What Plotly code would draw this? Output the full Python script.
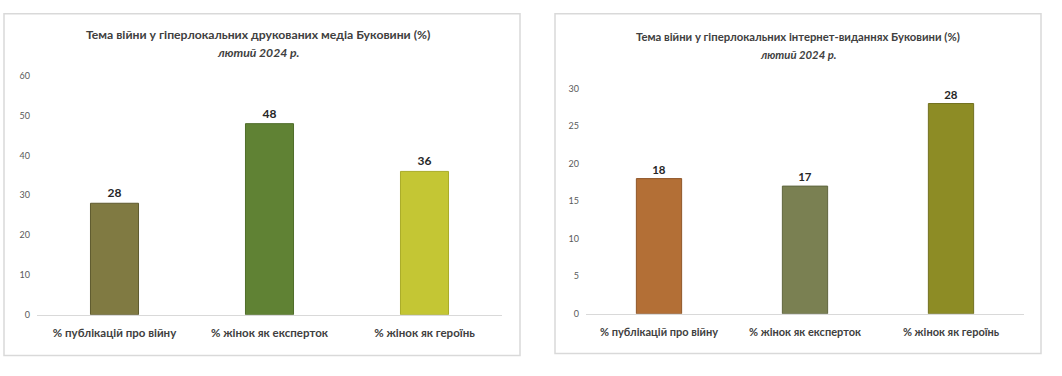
import plotly.graph_objects as go

W, H = 1062, 376

categories = ["% публікацій про війну", "% жінок як експерток", "% жінок як героїнь"]
print_values = [28, 48, 36]
online_values = [18, 17, 28]
print_colors = ["#807a42", "#608234", "#c4c634"]
print_lines = ["#5e5a2e", "#4f6d2a", "#a9ab28"]
online_colors = ["#b36f36", "#7a8052", "#8d8c25"]
online_lines = ["#8f5628", "#5f653e", "#727120"]
title_left = "Тема війни у гіперлокальних друкованих медіа Буковини (%)"
title_right = "Тема війни у гіперлокальних інтернет-виданнях Буковини (%)"
subtitle = "лютий 2024 р."

FONT = "Lato"

def px(x):
    return x / W

def py(y):
    return 1 - y / H

fig = go.Figure()
fig.add_trace(go.Bar(x=categories, y=print_values, width=0.31,
                     marker=dict(color=print_colors, line=dict(color=print_lines, width=1)),
                     text=print_values, textposition="outside", cliponaxis=False,
                     textfont=dict(family=FONT, size=12, color="#262626", weight="bold"),
                     xaxis="x", yaxis="y", showlegend=False, hoverinfo="skip"))
fig.add_trace(go.Bar(x=categories, y=online_values, width=0.31,
                     marker=dict(color=online_colors, line=dict(color=online_lines, width=1)),
                     text=online_values, textposition="outside", cliponaxis=False,
                     textfont=dict(family=FONT, size=11.5, color="#262626", weight="bold"),
                     xaxis="x2", yaxis="y2", showlegend=False, hoverinfo="skip"))

def xax(size):
    return dict(showgrid=False, showline=True, linecolor="#d9d9d9", linewidth=1,
                tickfont=dict(family=FONT, size=size, color="#404040", weight="bold"),
                ticks="", ticklabelstandoff=8, zeroline=False, fixedrange=True)

ycommon = dict(showgrid=False, showline=False, zeroline=False, ticks="",
               tickfont=dict(family=FONT, size=9, color="#595959"),
               ticklabelstandoff=6, fixedrange=True)

def ann(text, x, y, size):
    return dict(text=text, x=px(x), y=py(y), xref="paper", yref="paper",
                xanchor="center", yanchor="middle", showarrow=False,
                font=dict(family=FONT, size=size, color="#404040"))

fig.update_layout(
    width=W, height=H,
    margin=dict(l=0, r=0, t=0, b=0),
    paper_bgcolor="white", plot_bgcolor="white",
    xaxis=dict(domain=[px(37), px(502)], anchor="y", **xax(11.5)),
    yaxis=dict(domain=[py(318), py(72)], range=[0, 60], dtick=10, anchor="x", **ycommon),
    xaxis2=dict(domain=[px(586), px(1024)], anchor="y2", **xax(11)),
    yaxis2=dict(domain=[py(317), py(85)], range=[0, 30], dtick=5, anchor="x2", **ycommon),
    shapes=[
        dict(type="rect", xref="paper", yref="paper", x0=px(4), x1=px(520), y0=py(360), y1=py(8),
             line=dict(color="#d9d9d9", width=1.5), layer="below"),
        dict(type="rect", xref="paper", yref="paper", x0=px(555), x1=px(1041), y0=py(358), y1=py(8),
             line=dict(color="#d9d9d9", width=1.5), layer="below"),
    ],
    annotations=[
        ann("<b>" + title_left + "</b>", 258, 29, 12.2),
        ann("<b><i>" + subtitle + "</i></b>", 258, 48, 12.2),
        ann("<b>" + title_right + "</b>", 798, 31, 11.3),
        ann("<b><i>" + subtitle + "</i></b>", 798, 50, 11.3),
    ],
)

fig.write_html("out.html", config={"displayModeBar": False},
               post_script="document.body.style.margin='0';document.body.style.overflow='hidden';")
